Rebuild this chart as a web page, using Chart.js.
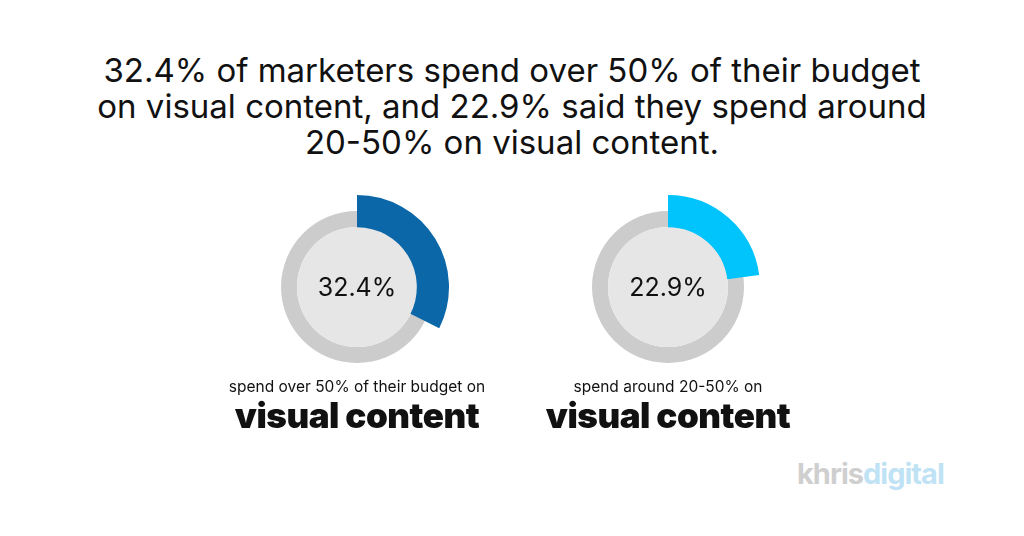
<!DOCTYPE html>
<html><head><meta charset="utf-8">
<script src="https://cdn.jsdelivr.net/npm/chart.js@4"></script>
<style>
body{margin:0;width:1024px;height:536px;background:#fff;font-family:Inter,'Open Sans',sans-serif;position:relative;overflow:hidden}
.t{position:absolute;left:0;width:1024px;top:52px;text-align:center;font-size:33px;line-height:36px;color:#111}
.c{position:absolute;width:200px;height:200px}
.c canvas{position:absolute;left:0;top:0}
.lab{position:absolute;width:360px;text-align:center;color:#111}
.s{font-size:15.5px}
.b{font-size:35px;font-weight:900;letter-spacing:-0.5px;line-height:38px}
.logo{position:absolute;left:797px;top:456px;font-size:29px;font-weight:700;letter-spacing:-1px;color:#cfcfcf}
</style></head><body>
<div class="t">32.4% of marketers spend over 50% of their budget<br>on visual content, and 22.9% said they spend around<br>20-50% on visual content.</div>
<div class="c" id="w0" style="left:257px;top:187px"></div>
<div class="c" id="w1" style="left:568px;top:187px"></div>
<div class="lab" style="left:177px;top:377px"><div class="s">spend over 50% of their budget on</div><div class="b">visual content</div></div>
<div class="lab" style="left:488px;top:377px"><div class="s">spend around 20-50% on</div><div class="b">visual content</div></div>
<div class="logo">khris<span style="color:#bfe3f5">digital</span></div>
<script>
var VALUES = [32.4, 22.9];
var COLORS = ["#0b67a8", "#00c4fb"];
var LABELS = ["32.4%", "22.9%"];

var centerPlugin = {
  id: "center",
  afterDatasetsDraw: function (chart) {
    var m = chart.getDatasetMeta(0).data[0]; if (!m) return;
    var ctx = chart.ctx;
    ctx.save(); ctx.fillStyle = "#e6e6e6";
    ctx.beginPath(); ctx.arc(m.x, m.y, 60, 0, Math.PI * 2); ctx.fill(); ctx.restore();
  }
};
var textPlugin = {
  id: "ctext",
  afterDraw: function (chart) {
    var m = chart.getDatasetMeta(0).data[0];
    var ctx = chart.ctx;
    ctx.save(); ctx.fillStyle = "#111"; ctx.font = "25px Inter, 'Open Sans', sans-serif";
    ctx.textAlign = "center"; ctx.textBaseline = "middle";
    ctx.fillText(chart.options.plugins.ctext.text, m.x, m.y + 1); ctx.restore();
  }
};

VALUES.forEach(function (v, i) {
  var wrap = document.getElementById("w" + i);
  var back = document.createElement("canvas"); back.width = 200; back.height = 200;
  var front = document.createElement("canvas"); front.width = 200; front.height = 200;
  wrap.appendChild(back); wrap.appendChild(front);
  var base = { responsive: false, animation: false, events: [], layout: { padding: 0 } };
  new Chart(back, {
    type: "doughnut",
    plugins: [centerPlugin],
    data: { datasets: [{ data: [100], backgroundColor: ["#cccccc"], borderWidth: 0 }] },
    options: Object.assign({}, base, { radius: 76, cutout: "79%",
      plugins: { legend: { display: false }, tooltip: { enabled: false } } })
  });
  new Chart(front, {
    type: "doughnut",
    plugins: [textPlugin],
    data: { datasets: [{ data: [v, 100 - v], backgroundColor: [COLORS[i], "rgba(0,0,0,0)"], borderWidth: 0 }] },
    options: Object.assign({}, base, { radius: 92, cutout: "65%",
      plugins: { legend: { display: false }, tooltip: { enabled: false }, ctext: { text: LABELS[i] } } })
  });
});
</script>
</body></html>
